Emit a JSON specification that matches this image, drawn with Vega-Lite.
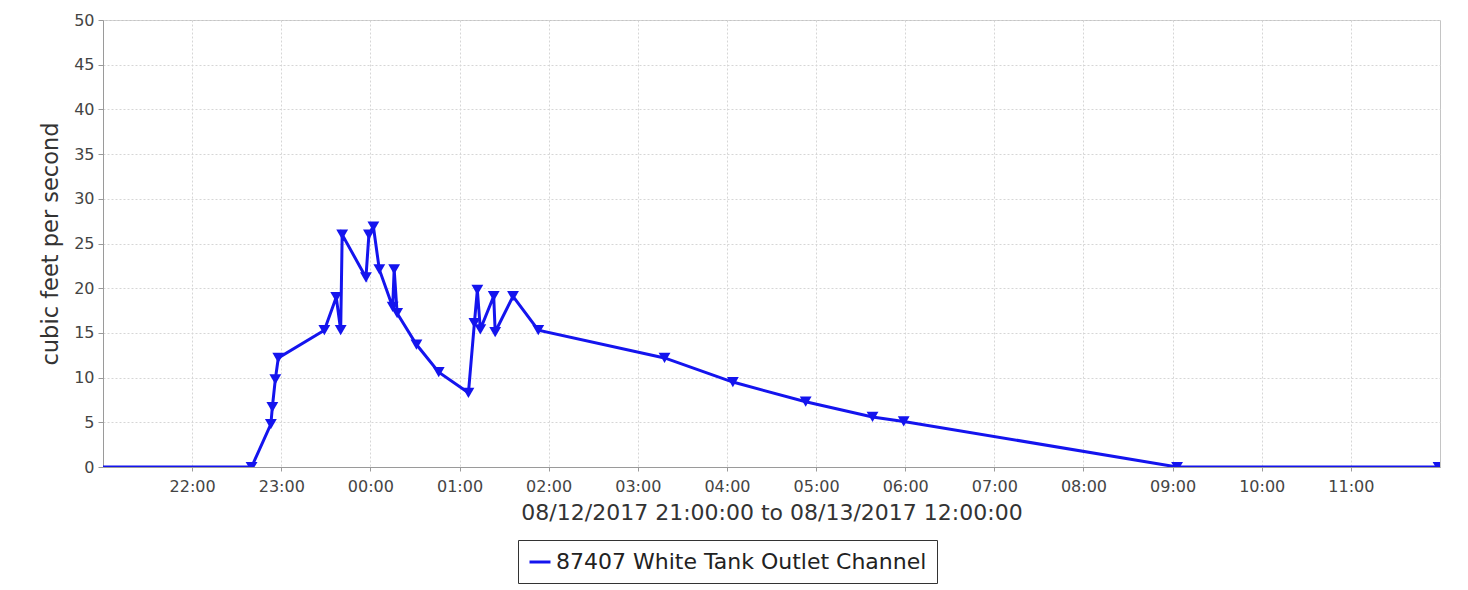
{
  "$schema": "https://vega.github.io/schema/vega-lite/v6.json",
  "width": 1337,
  "height": 447,
  "autosize": {"type": "none"},
  "padding": {"left": 103, "top": 20, "right": 28, "bottom": 123},
  "background": "white",
  "config": {
    "font": "DejaVu Sans",
    "view": {"stroke": "#c4c4c4", "strokeWidth": 1},
    "axis": {
      "gridColor": "#d6d6d6",
      "gridDash": [2, 2],
      "gridWidth": 1,
      "domainColor": "#9a9a9a",
      "tickColor": "#9a9a9a",
      "labelColor": "#444444",
      "titleColor": "#333333",
      "labelFont": "DejaVu Sans",
      "titleFont": "DejaVu Sans",
      "titleFontWeight": "normal"
    }
  },
  "data": {
    "values": [
      {"time": "2017-08-12T21:00:00", "cfs": 0, "series": "87407 White Tank Outlet Channel"},
      {"time": "2017-08-12T22:40:00", "cfs": 0, "series": "87407 White Tank Outlet Channel"},
      {"time": "2017-08-12T22:53:00", "cfs": 4.8, "series": "87407 White Tank Outlet Channel"},
      {"time": "2017-08-12T22:54:00", "cfs": 6.7, "series": "87407 White Tank Outlet Channel"},
      {"time": "2017-08-12T22:56:00", "cfs": 9.8, "series": "87407 White Tank Outlet Channel"},
      {"time": "2017-08-12T22:58:00", "cfs": 12.2, "series": "87407 White Tank Outlet Channel"},
      {"time": "2017-08-12T23:29:00", "cfs": 15.3, "series": "87407 White Tank Outlet Channel"},
      {"time": "2017-08-12T23:37:00", "cfs": 19.0, "series": "87407 White Tank Outlet Channel"},
      {"time": "2017-08-12T23:40:00", "cfs": 15.3, "series": "87407 White Tank Outlet Channel"},
      {"time": "2017-08-12T23:41:00", "cfs": 26.0, "series": "87407 White Tank Outlet Channel"},
      {"time": "2017-08-12T23:57:00", "cfs": 21.2, "series": "87407 White Tank Outlet Channel"},
      {"time": "2017-08-12T23:59:00", "cfs": 26.0, "series": "87407 White Tank Outlet Channel"},
      {"time": "2017-08-13T00:02:00", "cfs": 26.9, "series": "87407 White Tank Outlet Channel"},
      {"time": "2017-08-13T00:06:00", "cfs": 22.1, "series": "87407 White Tank Outlet Channel"},
      {"time": "2017-08-13T00:15:00", "cfs": 17.9, "series": "87407 White Tank Outlet Channel"},
      {"time": "2017-08-13T00:16:00", "cfs": 22.1, "series": "87407 White Tank Outlet Channel"},
      {"time": "2017-08-13T00:18:00", "cfs": 17.2, "series": "87407 White Tank Outlet Channel"},
      {"time": "2017-08-13T00:31:00", "cfs": 13.7, "series": "87407 White Tank Outlet Channel"},
      {"time": "2017-08-13T00:46:00", "cfs": 10.6, "series": "87407 White Tank Outlet Channel"},
      {"time": "2017-08-13T01:06:00", "cfs": 8.3, "series": "87407 White Tank Outlet Channel"},
      {"time": "2017-08-13T01:10:00", "cfs": 16.1, "series": "87407 White Tank Outlet Channel"},
      {"time": "2017-08-13T01:12:00", "cfs": 19.8, "series": "87407 White Tank Outlet Channel"},
      {"time": "2017-08-13T01:14:00", "cfs": 15.4, "series": "87407 White Tank Outlet Channel"},
      {"time": "2017-08-13T01:23:00", "cfs": 19.1, "series": "87407 White Tank Outlet Channel"},
      {"time": "2017-08-13T01:24:00", "cfs": 15.1, "series": "87407 White Tank Outlet Channel"},
      {"time": "2017-08-13T01:36:00", "cfs": 19.1, "series": "87407 White Tank Outlet Channel"},
      {"time": "2017-08-13T01:53:00", "cfs": 15.3, "series": "87407 White Tank Outlet Channel"},
      {"time": "2017-08-13T03:18:00", "cfs": 12.2, "series": "87407 White Tank Outlet Channel"},
      {"time": "2017-08-13T04:04:00", "cfs": 9.5, "series": "87407 White Tank Outlet Channel"},
      {"time": "2017-08-13T04:53:00", "cfs": 7.3, "series": "87407 White Tank Outlet Channel"},
      {"time": "2017-08-13T05:38:00", "cfs": 5.6, "series": "87407 White Tank Outlet Channel"},
      {"time": "2017-08-13T05:59:00", "cfs": 5.1, "series": "87407 White Tank Outlet Channel"},
      {"time": "2017-08-13T09:03:00", "cfs": 0, "series": "87407 White Tank Outlet Channel"},
      {"time": "2017-08-13T11:59:00", "cfs": 0, "series": "87407 White Tank Outlet Channel"}
    ]
  },
  "encoding": {
    "x": {
      "field": "time",
      "type": "temporal",
      "scale": {"domain": [
        {"year": 2017, "month": 8, "date": 12, "hours": 21},
        {"year": 2017, "month": 8, "date": 13, "hours": 12}
      ]},
      "axis": {
        "title": "08/12/2017 21:00:00 to 08/13/2017 12:00:00",
        "format": "%H:%M",
        "values": [
          {"year": 2017, "month": 8, "date": 12, "hours": 22},
          {"year": 2017, "month": 8, "date": 12, "hours": 23},
          {"year": 2017, "month": 8, "date": 13, "hours": 0},
          {"year": 2017, "month": 8, "date": 13, "hours": 1},
          {"year": 2017, "month": 8, "date": 13, "hours": 2},
          {"year": 2017, "month": 8, "date": 13, "hours": 3},
          {"year": 2017, "month": 8, "date": 13, "hours": 4},
          {"year": 2017, "month": 8, "date": 13, "hours": 5},
          {"year": 2017, "month": 8, "date": 13, "hours": 6},
          {"year": 2017, "month": 8, "date": 13, "hours": 7},
          {"year": 2017, "month": 8, "date": 13, "hours": 8},
          {"year": 2017, "month": 8, "date": 13, "hours": 9},
          {"year": 2017, "month": 8, "date": 13, "hours": 10},
          {"year": 2017, "month": 8, "date": 13, "hours": 11}
        ],
        "labelFontSize": 16,
        "titleFontSize": 22,
        "tickSize": 4,
        "labelPadding": 7,
        "titlePadding": 8,
        "labelFlush": false,
        "labelOverlap": false
      }
    },
    "y": {
      "field": "cfs",
      "type": "quantitative",
      "scale": {"domain": [0, 50], "nice": false},
      "axis": {
        "title": "cubic feet per second",
        "values": [0, 5, 10, 15, 20, 25, 30, 35, 40, 45, 50],
        "labelFontSize": 16,
        "titleFontSize": 22.5,
        "tickSize": 5,
        "labelPadding": 4,
        "titlePadding": 11,
        "labelFlush": false
      }
    }
  },
  "layer": [
    {
      "mark": {"type": "line", "strokeWidth": 3, "clip": true},
      "encoding": {
        "color": {
          "field": "series",
          "type": "nominal",
          "scale": {"range": ["#1414ee"]},
          "legend": {
            "title": null,
            "orient": "none",
            "legendX": 415,
            "legendY": 520,
            "symbolType": "stroke",
            "symbolStrokeWidth": 3,
            "symbolSize": 441,
            "labelFontSize": 22,
            "labelColor": "#222222",
            "labelLimit": 700,
            "labelOffset": 4,
            "strokeColor": "#333333",
            "fillColor": "white",
            "padding": 10,
            "cornerRadius": 0
          }
        }
      }
    },
    {
      "transform": [{"filter": {"field": "time", "gt": {"year": 2017, "month": 8, "date": 12, "hours": 21}}}],
      "mark": {"type": "point", "shape": "triangle-down", "filled": true, "size": 140, "color": "#1414ee", "opacity": 1, "clip": true}
    }
  ]
}
